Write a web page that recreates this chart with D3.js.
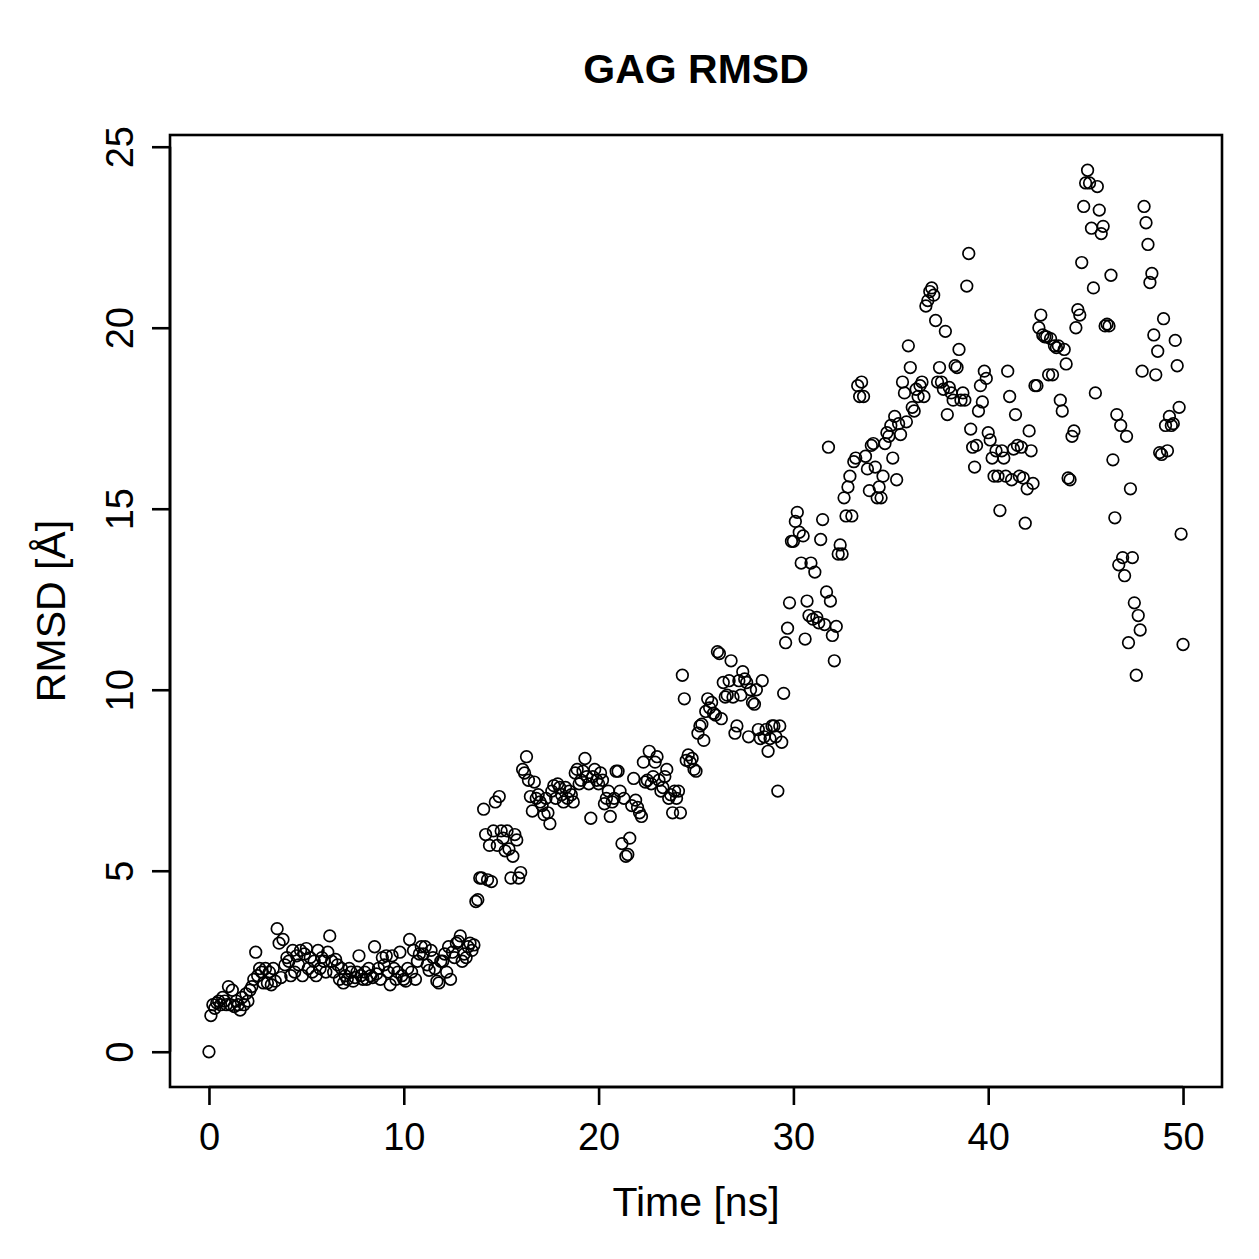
<!DOCTYPE html>
<html><head><meta charset="utf-8">
<script src="https://cdn.jsdelivr.net/npm/d3@7"></script>
<style>body{margin:0;background:#fff}svg{display:block}text{font-family:"Liberation Sans",Arial,sans-serif;fill:#000}</style>
</head><body>
<script>
const title = "GAG RMSD";
const xLabel = "Time [ns]";
const yLabel = "RMSD [Å]";
const xTicks = [0, 10, 20, 30, 40, 50];
const yTicks = [0, 5, 10, 15, 20, 25];
// Time in ns, one frame every 0.1 ns (values listed per ns)
const time = [
0.0,0.1,0.2,0.3,0.4,0.5,0.6,0.7,0.8,0.9,
1.0,1.1,1.2,1.3,1.4,1.5,1.6,1.7,1.8,1.9,
2.0,2.1,2.2,2.3,2.4,2.5,2.6,2.7,2.8,2.9,
3.0,3.1,3.2,3.3,3.4,3.5,3.6,3.7,3.8,3.9,
4.0,4.1,4.2,4.3,4.4,4.5,4.6,4.7,4.8,4.9,
5.0,5.1,5.2,5.3,5.4,5.5,5.6,5.7,5.8,5.9,
6.0,6.1,6.2,6.3,6.4,6.5,6.6,6.7,6.8,6.9,
7.0,7.1,7.2,7.3,7.4,7.5,7.6,7.7,7.8,7.9,
8.0,8.1,8.2,8.3,8.4,8.5,8.6,8.7,8.8,8.9,
9.0,9.1,9.2,9.3,9.4,9.5,9.6,9.7,9.8,9.9,
10.0,10.1,10.2,10.3,10.4,10.5,10.6,10.7,10.8,10.9,
11.0,11.1,11.2,11.3,11.4,11.5,11.6,11.7,11.8,11.9,
12.0,12.1,12.2,12.3,12.4,12.5,12.6,12.7,12.8,12.9,
13.0,13.1,13.2,13.3,13.4,13.5,13.6,13.7,13.8,13.9,
14.0,14.1,14.2,14.3,14.4,14.5,14.6,14.7,14.8,14.9,
15.0,15.1,15.2,15.3,15.4,15.5,15.6,15.7,15.8,15.9,
16.0,16.1,16.2,16.3,16.4,16.5,16.6,16.7,16.8,16.9,
17.0,17.1,17.2,17.3,17.4,17.5,17.6,17.7,17.8,17.9,
18.0,18.1,18.2,18.3,18.4,18.5,18.6,18.7,18.8,18.9,
19.0,19.1,19.2,19.3,19.4,19.5,19.6,19.7,19.8,19.9,
20.0,20.1,20.2,20.3,20.4,20.5,20.6,20.7,20.8,20.9,
21.0,21.1,21.2,21.3,21.4,21.5,21.6,21.7,21.8,21.9,
22.0,22.1,22.2,22.3,22.4,22.5,22.6,22.7,22.8,22.9,
23.0,23.1,23.2,23.3,23.4,23.5,23.6,23.7,23.8,23.9,
24.0,24.1,24.2,24.3,24.4,24.5,24.6,24.7,24.8,24.9,
25.0,25.1,25.2,25.3,25.4,25.5,25.6,25.7,25.8,25.9,
26.0,26.1,26.2,26.3,26.4,26.5,26.6,26.7,26.8,26.9,
27.0,27.1,27.2,27.3,27.4,27.5,27.6,27.7,27.8,27.9,
28.0,28.1,28.2,28.3,28.4,28.5,28.6,28.7,28.8,28.9,
29.0,29.1,29.2,29.3,29.4,29.5,29.6,29.7,29.8,29.9,
30.0,30.1,30.2,30.3,30.4,30.5,30.6,30.7,30.8,30.9,
31.0,31.1,31.2,31.3,31.4,31.5,31.6,31.7,31.8,31.9,
32.0,32.1,32.2,32.3,32.4,32.5,32.6,32.7,32.8,32.9,
33.0,33.1,33.2,33.3,33.4,33.5,33.6,33.7,33.8,33.9,
34.0,34.1,34.2,34.3,34.4,34.5,34.6,34.7,34.8,34.9,
35.0,35.1,35.2,35.3,35.4,35.5,35.6,35.7,35.8,35.9,
36.0,36.1,36.2,36.3,36.4,36.5,36.6,36.7,36.8,36.9,
37.0,37.1,37.2,37.3,37.4,37.5,37.6,37.7,37.8,37.9,
38.0,38.1,38.2,38.3,38.4,38.5,38.6,38.7,38.8,38.9,
39.0,39.1,39.2,39.3,39.4,39.5,39.6,39.7,39.8,39.9,
40.0,40.1,40.2,40.3,40.4,40.5,40.6,40.7,40.8,40.9,
41.0,41.1,41.2,41.3,41.4,41.5,41.6,41.7,41.8,41.9,
42.0,42.1,42.2,42.3,42.4,42.5,42.6,42.7,42.8,42.9,
43.0,43.1,43.2,43.3,43.4,43.5,43.6,43.7,43.8,43.9,
44.0,44.1,44.2,44.3,44.4,44.5,44.6,44.7,44.8,44.9,
45.0,45.1,45.2,45.3,45.4,45.5,45.6,45.7,45.8,45.9,
46.0,46.1,46.2,46.3,46.4,46.5,46.6,46.7,46.8,46.9,
47.0,47.1,47.2,47.3,47.4,47.5,47.6,47.7,47.8,47.9,
48.0,48.1,48.2,48.3,48.4,48.5,48.6,48.7,48.8,48.9,
49.0,49.1,49.2,49.3,49.4,49.5,49.6,49.7,49.8,49.9,
50.0];
// RMSD in Å, one row per ns
const rmsd = [
0.0,1.0,1.3,1.2,1.35,1.4,1.3,1.5,1.4,1.3,
1.8,1.3,1.7,1.25,1.4,1.3,1.15,1.5,1.3,1.6,
1.4,1.7,1.8,2.0,2.75,2.1,2.3,2.2,1.9,2.3,
1.9,2.2,1.85,2.3,1.95,3.4,3.0,2.05,3.1,2.4,
2.6,2.5,2.1,2.8,2.2,2.65,2.4,2.8,2.1,2.7,
2.85,2.3,2.6,2.2,2.5,2.1,2.8,2.3,2.6,2.5,
2.2,2.75,3.2,2.5,2.2,2.55,2.4,2.0,2.3,1.9,
2.1,2.0,2.3,2.2,1.95,2.05,2.2,2.65,2.1,2.0,
2.2,2.0,2.3,2.1,2.05,2.9,2.15,2.3,2.0,2.6,
2.4,2.65,2.2,1.85,2.65,2.3,2.0,2.2,2.75,2.1,
2.0,1.95,2.3,3.1,2.2,2.8,2.0,2.5,2.7,2.9,
2.7,2.9,2.4,2.25,2.8,2.6,2.3,1.95,1.9,2.5,
2.5,2.7,2.2,2.9,2.0,2.75,2.6,3.0,3.05,3.2,
2.5,2.7,2.6,2.9,3.0,2.8,2.95,4.15,4.2,4.8,
4.8,6.7,6.0,4.75,5.7,4.7,6.1,6.9,5.7,7.05,
6.1,5.9,5.55,6.1,5.6,4.8,5.4,6.0,5.85,4.8,
4.95,7.8,7.7,8.15,7.5,7.05,6.65,7.45,7.0,7.1,
6.9,6.8,6.55,7.0,6.6,6.3,7.2,7.35,7.0,7.4,
7.3,7.1,6.9,7.3,7.0,7.2,7.1,6.9,7.7,7.8,
7.4,7.5,7.75,8.1,7.6,7.4,6.45,7.6,7.8,7.5,
7.4,7.7,7.5,6.85,7.0,7.2,6.5,6.9,7.0,7.75,
7.75,7.2,5.75,7.0,5.4,5.45,5.9,6.8,7.55,6.95,
6.75,6.6,6.5,8.0,7.45,7.5,8.3,7.4,7.6,8.0,
8.15,7.5,7.2,7.3,7.6,7.8,7.0,7.1,6.6,7.2,
7.0,7.2,6.6,10.4,9.75,8.05,8.2,8.0,8.1,7.8,
7.75,8.8,9.0,9.05,8.6,9.4,9.75,9.5,9.65,9.35,
9.3,11.05,11.0,9.2,10.2,9.8,9.85,10.25,10.8,9.8,
8.8,9.0,10.25,9.85,10.5,10.3,10.2,8.7,10.0,9.65,
9.6,10.0,8.9,8.65,10.25,8.7,8.9,8.3,8.65,9.0,
9.0,8.7,7.2,9.0,8.55,9.9,11.3,11.7,12.4,14.1,
14.1,14.65,14.9,14.35,13.5,14.25,11.4,12.45,12.05,13.5,
11.95,13.25,12.0,11.85,14.15,14.7,11.8,12.7,16.7,12.45,
11.5,10.8,11.75,13.75,14.0,13.75,15.3,14.8,15.6,15.9,
14.8,16.3,16.4,18.4,18.1,18.5,18.1,16.45,16.1,15.5,
16.75,16.8,16.15,15.3,15.6,15.3,15.9,16.8,17.1,17.0,
17.3,16.4,17.55,15.8,17.35,17.05,18.5,18.2,17.4,19.5,
18.9,17.8,17.7,18.3,18.1,18.4,18.5,18.1,20.6,20.75,
21.0,21.1,20.9,20.2,18.5,18.9,18.5,18.3,19.9,17.6,
18.35,18.2,18.0,18.95,18.9,19.4,18.0,18.2,18.0,21.15,
22.05,17.2,16.7,16.15,16.75,17.7,18.4,17.95,18.8,18.6,
17.1,16.9,16.4,15.9,16.6,15.9,14.95,16.6,16.4,15.9,
18.8,18.1,15.8,16.65,17.6,16.75,15.9,16.7,15.85,14.6,
15.55,17.15,16.6,15.7,18.4,18.4,20.0,20.35,19.8,19.75,
19.75,18.7,19.7,18.7,19.5,19.45,19.5,18.0,17.7,19.4,
19.0,15.85,15.8,17.0,17.15,20.0,20.5,20.35,21.8,23.35,
24.0,24.35,24.0,22.75,21.1,18.2,23.9,23.25,22.6,22.8,
20.05,20.1,20.05,21.45,16.35,14.75,17.6,13.45,17.3,13.65,
13.15,17.0,11.3,15.55,13.65,12.4,10.4,12.05,11.65,18.8,
23.35,22.9,22.3,21.25,21.5,19.8,18.7,19.35,16.55,16.5,
20.25,17.3,16.6,17.55,17.3,17.35,19.65,18.95,17.8,14.3,
11.25];

const W = 1259, H = 1259;
const plot = {left: 170, right: 1222, top: 135, bottom: 1087};

const svg = d3.select("body").append("svg").attr("width", W).attr("height", H);

// R-style 4% axis expansion
const xe = d3.extent(time), ye = d3.extent(rmsd);
const xp = (xe[1] - xe[0]) * 0.04, yp = (ye[1] - ye[0]) * 0.04;
const x = d3.scaleLinear().domain([xe[0] - xp, xe[1] + xp]).range([plot.left, plot.right]);
const y = d3.scaleLinear().domain([ye[0] - yp, ye[1] + yp]).range([plot.bottom, plot.top]);

const data = time.map((t, i) => ({t, v: rmsd[i]}));

svg.append("g").selectAll("circle").data(data).join("circle")
  .attr("cx", d => x(d.t)).attr("cy", d => y(d.v)).attr("r", 5.8)
  .attr("fill", "none").attr("stroke", "#000").attr("stroke-width", 1.7);

// box
svg.append("rect").attr("x", plot.left).attr("y", plot.top)
  .attr("width", plot.right - plot.left).attr("height", plot.bottom - plot.top)
  .attr("fill", "none").attr("stroke", "#000").attr("stroke-width", 2.6);

// x axis
const xAxis = d3.axisBottom(x).tickValues(xTicks).tickSize(18).tickPadding(16).tickFormat(d3.format("d"));
const gx = svg.append("g").attr("transform", `translate(0,${plot.bottom})`).call(xAxis);
gx.select(".domain").attr("d", `M${x(xTicks[0])},0H${x(xTicks[xTicks.length-1])}`).attr("stroke-width", 2.6);
gx.selectAll(".tick line").attr("stroke-width", 2.6);
gx.selectAll(".tick text").attr("font-size", 38).attr("font-family", "Liberation Sans, Arial, sans-serif").attr("dy", "0.75em");

// y axis
const yAxis = d3.axisLeft(y).tickValues(yTicks).tickSize(18).tickPadding(0).tickFormat(d3.format("d"));
const gy = svg.append("g").attr("transform", `translate(${plot.left},0)`).call(yAxis);
gy.select(".domain").attr("d", `M0,${y(yTicks[0])}V${y(yTicks[yTicks.length-1])}`).attr("stroke-width", 2.6);
gy.selectAll(".tick line").attr("stroke-width", 2.6);
gy.selectAll(".tick text").attr("font-size", 38).attr("font-family", "Liberation Sans, Arial, sans-serif")
  .attr("x", null).attr("dy", null).attr("text-anchor", "middle")
  .attr("transform", "translate(-37,0) rotate(-90)");

svg.append("text").attr("x", (plot.left + plot.right) / 2).attr("y", 83)
  .attr("text-anchor", "middle").attr("font-size", 41).attr("font-weight", "bold").text(title);
svg.append("text").attr("x", (plot.left + plot.right) / 2).attr("y", 1216)
  .attr("text-anchor", "middle").attr("font-size", 41).text(xLabel);
svg.append("text").attr("transform", `translate(65,${(plot.top + plot.bottom) / 2}) rotate(-90)`)
  .attr("text-anchor", "middle").attr("font-size", 41).text(yLabel);
</script>
</body></html>
